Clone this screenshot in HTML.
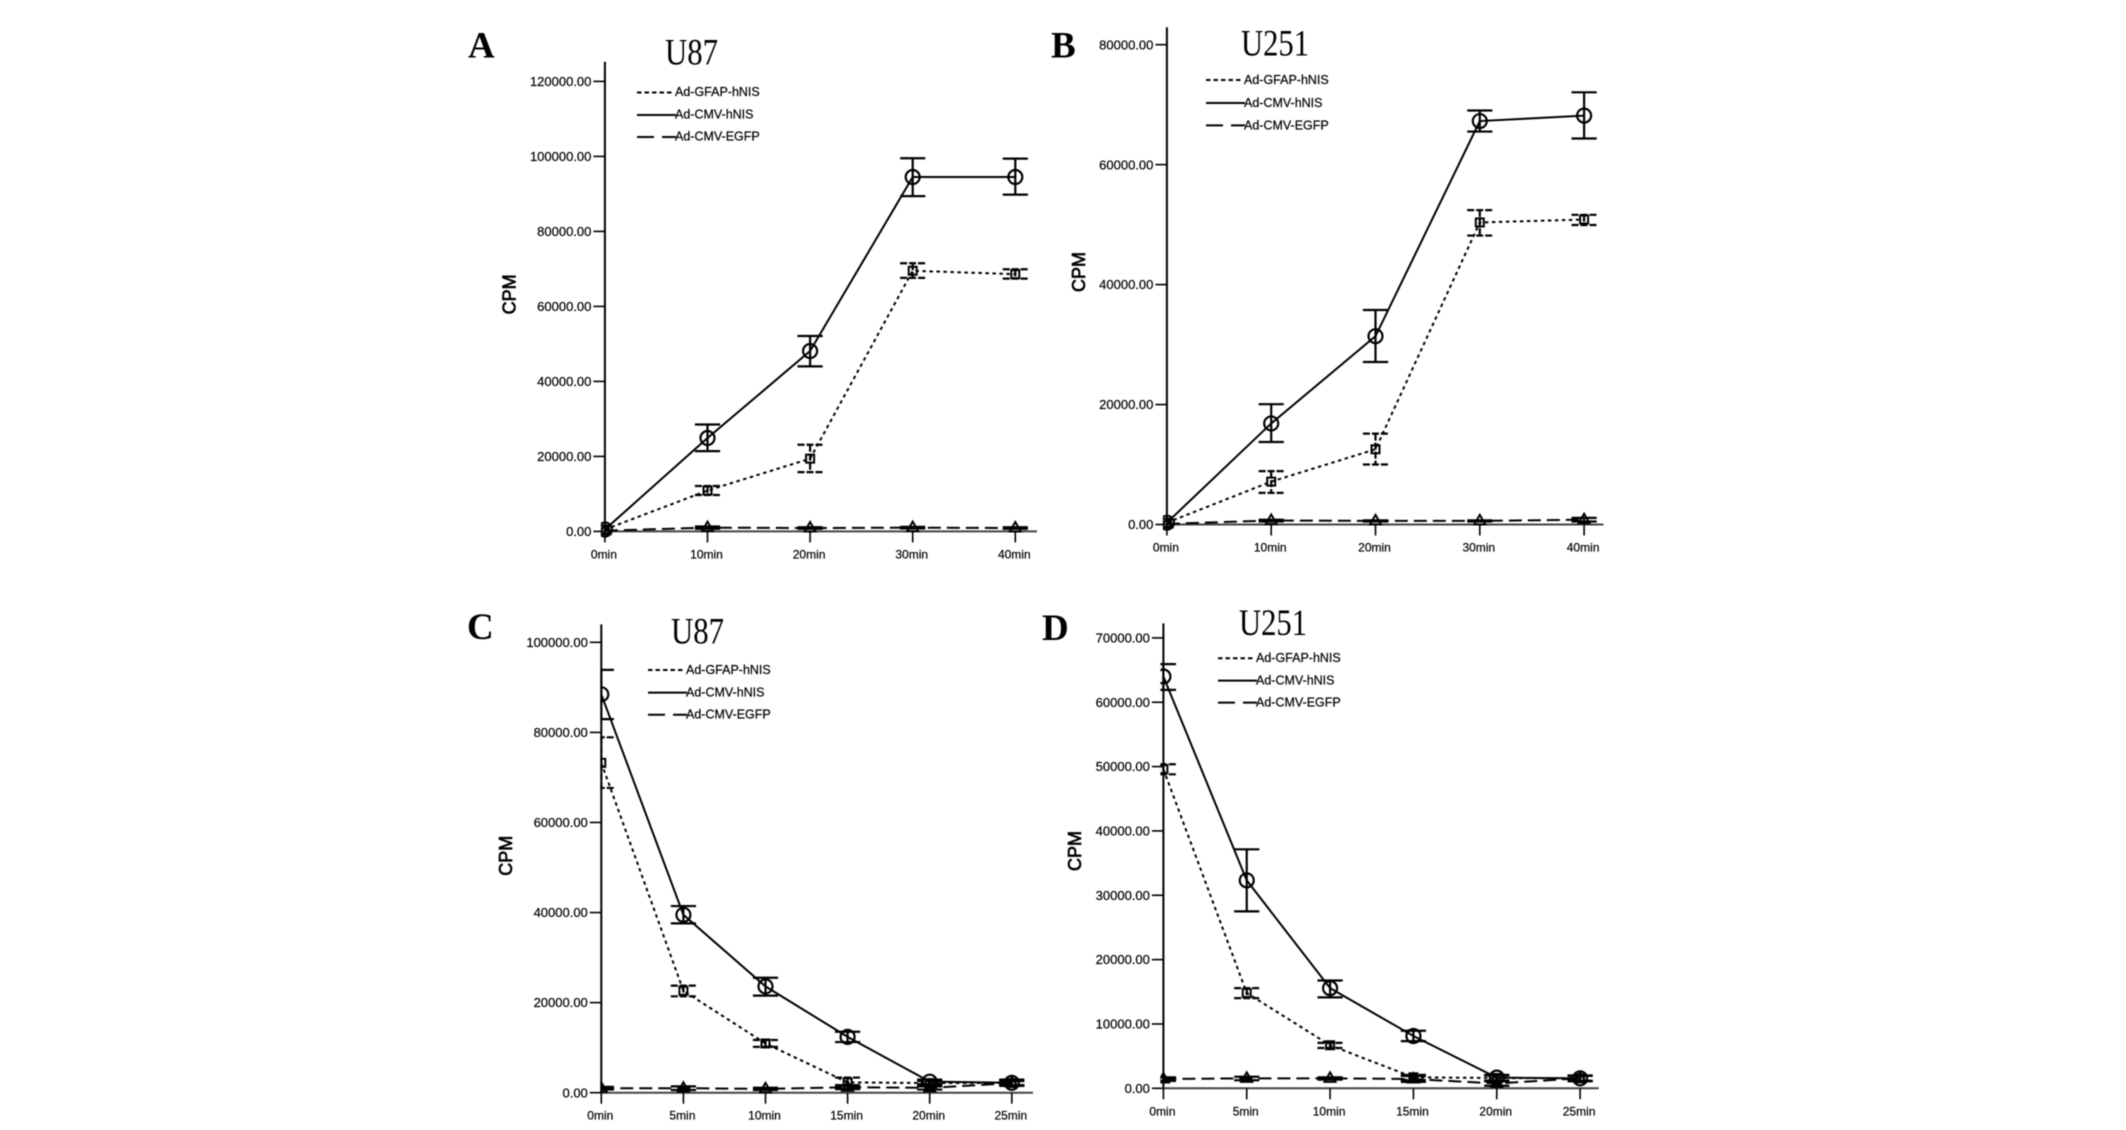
<!DOCTYPE html>
<html lang="en">
<head>
<meta charset="utf-8">
<title>Radioiodine uptake and efflux in U87 and U251 cells</title>
<style>
html,body{margin:0;padding:0;background:#fff;width:2126px;height:1130px;overflow:hidden}
svg{display:block;filter:blur(0.55px)}
.letter{font:bold 37px "Liberation Serif",serif;fill:#000}
.title{font:37px "Liberation Serif",serif;fill:#000}
.cpm{font:18px "Liberation Sans",sans-serif;fill:#000;stroke:#000;stroke-width:.7px;text-anchor:middle}
.leg{font:12.5px "Liberation Sans",sans-serif;fill:#000;stroke:#000;stroke-width:.2px}
.tick-y{font:13px "Liberation Sans",sans-serif;fill:#000;stroke:#000;stroke-width:.2px;text-anchor:end}
.tick-x{font:12px "Liberation Sans",sans-serif;fill:#000;stroke:#000;stroke-width:.2px;text-anchor:middle}
</style>
</head>
<body>
<svg id="figure" xmlns="http://www.w3.org/2000/svg" width="2126" height="1130" viewBox="0 0 2126 1130">
  <rect width="2126" height="1130" fill="#fff"/>

  <g id="panel-a">
    <text class="letter" x="468" y="57.4">A</text>
    <text class="title" x="665" y="64.7" textLength="53" lengthAdjust="spacingAndGlyphs">U87</text>
    <text class="cpm" transform="translate(515.5 294.4) rotate(-90)">CPM</text>
    <g>
      <line x1="637" x2="674" y1="92.5" y2="92.5" stroke="#000" stroke-width="2" stroke-dasharray="4.5 3"/>
      <text class="leg" x="675" y="96">Ad-GFAP-hNIS</text>
      <line x1="637" x2="676" y1="115" y2="115" stroke="#000" stroke-width="2"/>
      <text class="leg" x="675" y="118.5">Ad-CMV-hNIS</text>
      <path d="M637 137h17M662 137h14" stroke="#000" stroke-width="2" fill="none"/>
      <text class="leg" x="675" y="140.5">Ad-CMV-EGFP</text>
    </g>
  </g>

  <g id="panel-b">
    <text class="letter" x="1051" y="57.4">B</text>
    <text class="title" x="1241" y="55.3" textLength="68" lengthAdjust="spacingAndGlyphs">U251</text>
    <text class="cpm" transform="translate(1084.8 272) rotate(-90)">CPM</text>
    <g>
      <line x1="1206" x2="1243" y1="80" y2="80" stroke="#000" stroke-width="2" stroke-dasharray="4.5 3"/>
      <text class="leg" x="1244" y="84">Ad-GFAP-hNIS</text>
      <line x1="1206" x2="1245" y1="103" y2="103" stroke="#000" stroke-width="2"/>
      <text class="leg" x="1244" y="107">Ad-CMV-hNIS</text>
      <path d="M1206 125.4h17M1231 125.4h14" stroke="#000" stroke-width="2" fill="none"/>
      <text class="leg" x="1244" y="129.5">Ad-CMV-EGFP</text>
    </g>
  </g>

  <g id="panel-c">
    <text class="letter" x="467" y="639">C</text>
    <text class="title" x="671" y="643.4" textLength="53" lengthAdjust="spacingAndGlyphs">U87</text>
    <text class="cpm" transform="translate(512 855.8) rotate(-90)">CPM</text>
    <g>
      <line x1="648" x2="685" y1="670" y2="670" stroke="#000" stroke-width="2" stroke-dasharray="4.5 3"/>
      <text class="leg" x="686" y="674">Ad-GFAP-hNIS</text>
      <line x1="648" x2="687" y1="692.6" y2="692.6" stroke="#000" stroke-width="2"/>
      <text class="leg" x="686" y="696.5">Ad-CMV-hNIS</text>
      <path d="M648 714.7h17M673 714.7h14" stroke="#000" stroke-width="2" fill="none"/>
      <text class="leg" x="686" y="718.7">Ad-CMV-EGFP</text>
    </g>
  </g>

  <g id="panel-d">
    <text class="letter" x="1042" y="640">D</text>
    <text class="title" x="1239" y="634.8" textLength="68" lengthAdjust="spacingAndGlyphs">U251</text>
    <text class="cpm" transform="translate(1081.2 851) rotate(-90)">CPM</text>
    <g>
      <line x1="1218" x2="1255" y1="658.2" y2="658.2" stroke="#000" stroke-width="2" stroke-dasharray="4.5 3"/>
      <text class="leg" x="1256" y="662.2">Ad-GFAP-hNIS</text>
      <line x1="1218" x2="1257" y1="680.6" y2="680.6" stroke="#000" stroke-width="2"/>
      <text class="leg" x="1256" y="684.6">Ad-CMV-hNIS</text>
      <path d="M1218 702.6h17M1243 702.6h14" stroke="#000" stroke-width="2" fill="none"/>
      <text class="leg" x="1256" y="706.6">Ad-CMV-EGFP</text>
    </g>
  </g>
</svg>

<script>
// ---- Panel A: U87 uptake ----
const aCategories = ['0min', '10min', '20min', '30min', '40min'];
const aYTicks = [0, 20000, 40000, 60000, 80000, 100000, 120000];
const aCmv = [500, 24900, 48100, 94500, 94500];
const aCmvHigh = [500, 28500, 52100, 99500, 99400];
const aCmvLow = [500, 21400, 44000, 89400, 89800];
const aGfap = [500, 10900, 19400, 69500, 68600];
const aGfapHigh = [500, 12100, 23100, 71500, 69900];
const aGfapLow = [500, 9700, 15800, 67600, 67400];
const aEgfp = [200, 1000, 900, 1000, 900];
const aEgfpHigh = [200, 1300, 1100, 1200, 1100];
const aEgfpLow = [200, 700, 700, 800, 700];

// ---- Panel B: U251 uptake ----
const bCategories = ['0min', '10min', '20min', '30min', '40min'];
const bYTicks = [0, 20000, 40000, 60000, 80000];
const bCmv = [300, 16850, 31400, 67270, 68180];
const bCmvHigh = [300, 20060, 35760, 69030, 72060];
const bCmvLow = [300, 13760, 27090, 65515, 64360];
const bGfap = [300, 7150, 12545, 50360, 50850];
const bGfapHigh = [300, 8900, 15150, 52420, 51640];
const bGfapLow = [300, 5270, 10000, 48180, 49940];
const bEgfp = [100, 670, 600, 600, 800];
const bEgfpHigh = [100, 800, 700, 700, 1100];
const bEgfpLow = [100, 500, 500, 500, 500];

// ---- Panel C: U87 efflux ----
const cCategories = ['0min', '5min', '10min', '15min', '20min', '25min'];
const cYTicks = [0, 20000, 40000, 60000, 80000, 100000];
const cCmv = [88450, 39500, 23600, 12390, 2450, 2200];
const cCmvHigh = [93880, 41440, 25530, 13530, 2900, 2900];
const cCmvLow = [82950, 37600, 21560, 11240, 1900, 1500];
const cGfap = [73240, 22630, 10930, 2290, 2140, 2140];
const cGfapHigh = [78900, 23780, 11700, 3360, 2600, 2700];
const cGfapLow = [67660, 21400, 10170, 1380, 1700, 1600];
const cEgfp = [1000, 1000, 840, 1220, 1070, 2140];
const cEgfpHigh = [1300, 1400, 1100, 1700, 1400, 2600];
const cEgfpLow = [700, 600, 600, 800, 700, 1700];

// ---- Panel D: U251 efflux ----
const dCategories = ['0min', '5min', '10min', '15min', '20min', '25min'];
const dYTicks = [0, 10000, 20000, 30000, 40000, 50000, 60000, 70000];
const dCmv = [64000, 32320, 15570, 8130, 1660, 1550];
const dCmvHigh = [65930, 37140, 16750, 8940, 2100, 2000];
const dCmvLow = [61920, 27500, 14130, 7330, 1200, 1100];
const dGfap = [49600, 14820, 6690, 1710, 1600, 1550];
const dGfapHigh = [50360, 15570, 7060, 2100, 2000, 1950];
const dGfapLow = [48800, 14020, 6260, 1300, 1200, 1150];
const dEgfp = [1440, 1550, 1550, 1440, 750, 1550];
const dEgfpHigh = [1700, 1800, 1700, 1900, 1100, 1950];
const dEgfpLow = [1150, 1250, 1350, 1000, 400, 1150];

const NS = 'http://www.w3.org/2000/svg';
const INK = '#000';

function mk(tag, attrs, parent) {
  const el = document.createElementNS(NS, tag);
  for (const k in attrs) el.setAttribute(k, attrs[k]);
  parent.appendChild(el);
  return el;
}

function drawPanel(id, geom, categories, yTicks, seriesList) {
  const root = document.getElementById(id);
  const yMax = yTicks[yTicks.length - 1];
  const xScale = i => geom.x0 + i * (geom.xEnd - geom.x0) / (categories.length - 1);
  const yScale = v => geom.y0 - v / yMax * (geom.y0 - geom.yMaxPx);

  // axes
  const yAxis = mk('line', {x1: geom.x0, x2: geom.x0, y1: geom.axisTop, y2: geom.y0 + 1, stroke: INK, 'stroke-width': 2}, root);
  
  
  const xAxis = mk('line', {x1: geom.x0, x2: geom.axisRight, y1: geom.y0, y2: geom.y0, stroke: '#444', 'stroke-width': 2}, root);
  
  

  yTicks.forEach(t => {
    const y = yScale(t);
    const mark = mk('line', {x1: geom.x0 - 11.5, x2: geom.x0, y1: y, y2: y, stroke: INK, 'stroke-width': 1.6}, root);
    
    
    const label = mk('text', {class: 'tick-y', x: geom.x0 - 13.5, y: y + 4.6}, root);
    
    
    label.textContent = t.toFixed(2);
  });

  categories.forEach((c, i) => {
    const x = xScale(i);
    const mark = mk('line', {x1: x, x2: x, y1: geom.y0, y2: geom.y0 + 11, stroke: INK, 'stroke-width': 1.6}, root);
    
    
    const label = mk('text', {class: 'tick-x', x: x - 1, y: geom.y0 + 27}, root);
    
    
    label.textContent = c;
  });

  // clip so markers at the first time point are cut by the y-axis
  const clip = mk('clipPath', {id: id + '-clip'}, root);
  mk('rect', {x: geom.x0 + geom.clipOffset, y: 0, width: 1000, height: 1130}, clip);
  const plot = mk('g', {'clip-path': 'url(#' + id + '-clip)'}, root);
  
  

  seriesList.forEach(s => {
    const group = mk('g', {}, plot);
    
    

    const pts = s.values.map((v, i) => xScale(i) + ',' + yScale(v)).join(' ');
    const line = mk('polyline', {points: pts, fill: 'none', stroke: INK, 'stroke-width': 2, 'stroke-dasharray': s.dash}, group);
    
    

    s.values.forEach((v, i) => {
      const x = xScale(i);
      const yHigh = yScale(s.high[i]);
      const yLow = yScale(s.low[i]);
      const y = yScale(v);
      if (s.high[i] > s.low[i]) {
        const bar = mk('path', {
          d: 'M' + x + ' ' + yHigh + 'V' + yLow +
             'M' + (x - 12.6) + ' ' + yHigh + 'H' + (x + 12.6) +
             'M' + (x - 12.6) + ' ' + yLow + 'H' + (x + 12.6),
          fill: 'none', stroke: INK, 'stroke-width': 2.2, 'stroke-dasharray': s.capDash
        }, group);
        
        
      }

      let marker;
      if (s.marker === 'circle') {
        marker = mk('circle', {cx: x, cy: y, r: 7, fill: 'none', stroke: INK, 'stroke-width': 2.2}, group);
      } else if (s.marker === 'square') {
        marker = mk('rect', {x: x - 4, y: y - 4, width: 8, height: 8, fill: 'none', stroke: INK, 'stroke-width': 2}, group);
      } else {
        marker = mk('path', {d: 'M' + x + ' ' + (y - 6) + 'l5.5 9.5h-11z', fill: 'none', stroke: INK, 'stroke-width': 2}, group);
      }
      
      
    });
  });
}

function series(gfap, gfapHigh, gfapLow, cmv, cmvHigh, cmvLow, egfp, egfpHigh, egfpLow) {
  return [
    {name: 'ad-cmv-egfp', values: egfp, high: egfpHigh, low: egfpLow, marker: 'triangle', dash: '13 6', capDash: 'none'},
    {name: 'ad-gfap-hnis', values: gfap, high: gfapHigh, low: gfapLow, marker: 'square', dash: '3.5 3.5', capDash: '7 2'},
    {name: 'ad-cmv-hnis', values: cmv, high: cmvHigh, low: cmvLow, marker: 'circle', dash: 'none', capDash: 'none'}
  ];
}

drawPanel('panel-a',
  {x0: 604.9, xEnd: 1015.3, y0: 531.4, yMaxPx: 81.4, axisTop: 61.8, axisRight: 1037, clipOffset: -4},
  aCategories, aYTicks,
  series(aGfap, aGfapHigh, aGfapLow, aCmv, aCmvHigh, aCmvLow, aEgfp, aEgfpHigh, aEgfpLow));

drawPanel('panel-b',
  {x0: 1166.9, xEnd: 1584.1, y0: 524.5, yMaxPx: 44.7, axisTop: 27.3, axisRight: 1603.5, clipOffset: -4},
  bCategories, bYTicks,
  series(bGfap, bGfapHigh, bGfapLow, bCmv, bCmvHigh, bCmvLow, bEgfp, bEgfpHigh, bEgfpLow));

drawPanel('panel-c',
  {x0: 601.3, xEnd: 1011.8, y0: 1092.7, yMaxPx: 642.3, axisTop: 624.4, axisRight: 1033, clipOffset: -1},
  cCategories, cYTicks,
  series(cGfap, cGfapHigh, cGfapLow, cCmv, cCmvHigh, cCmvLow, cEgfp, cEgfpHigh, cEgfpLow));

drawPanel('panel-d',
  {x0: 1163.4, xEnd: 1580.1, y0: 1088.3, yMaxPx: 637.9, axisTop: 623.4, axisRight: 1598.7, clipOffset: -3},
  dCategories, dYTicks,
  series(dGfap, dGfapHigh, dGfapLow, dCmv, dCmvHigh, dCmvLow, dEgfp, dEgfpHigh, dEgfpLow));
</script>
</body>
</html>
